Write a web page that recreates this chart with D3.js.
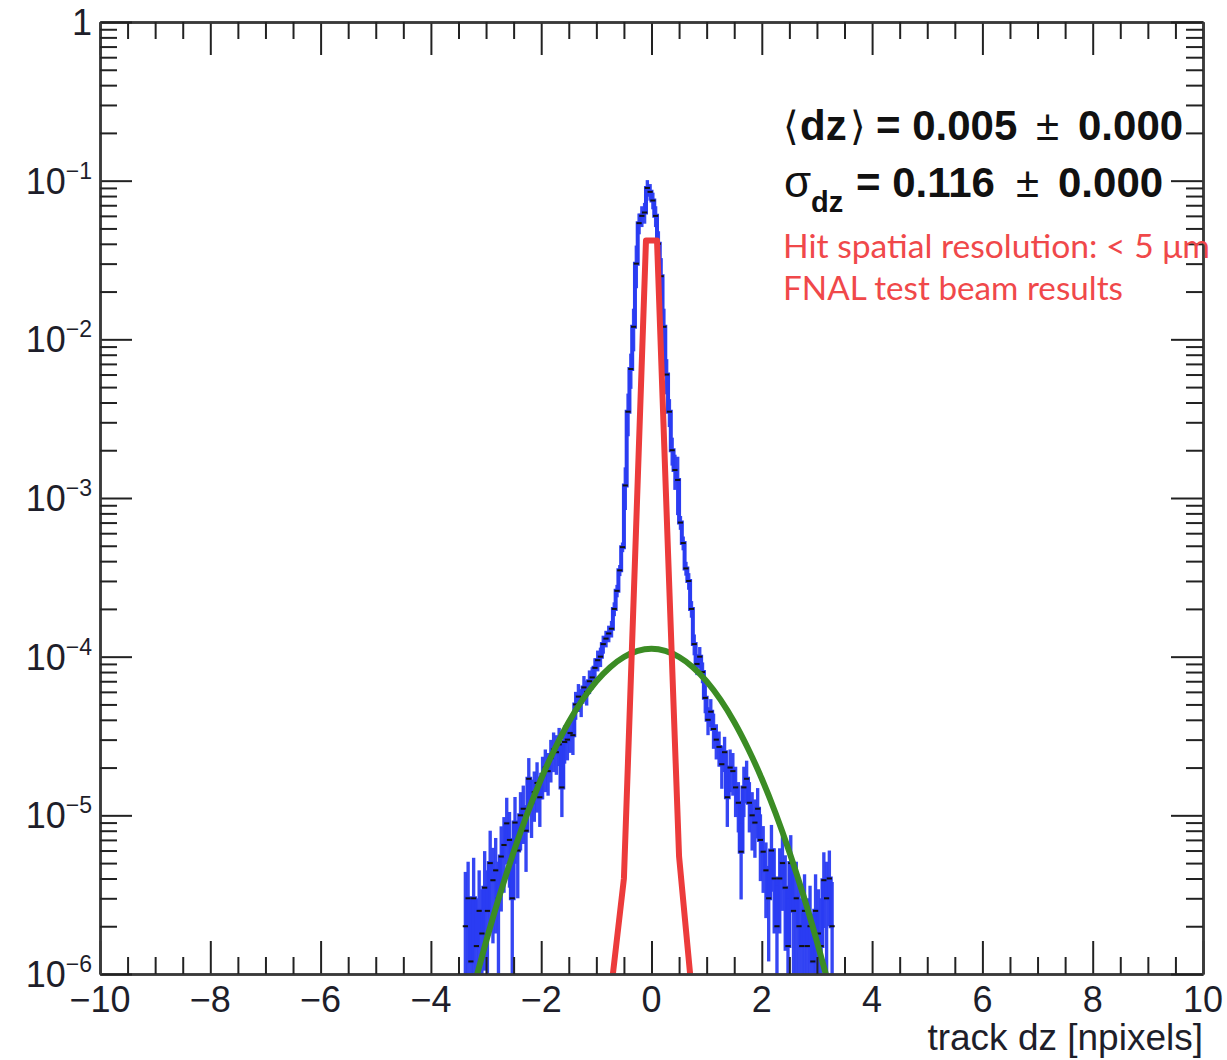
<!DOCTYPE html>
<html>
<head>
<meta charset="utf-8">
<script src="https://cdn.jsdelivr.net/npm/d3@7"></script>
<style>
  html, body { margin: 0; padding: 0; background: #fff; }
  svg { display: block; }
</style>
</head>
<body>
<svg id="chart" width="1227" height="1060"></svg>
<script>
// ---------------- data ----------------
const binStart = -3.4;
const binWidth = 0.05;
// measured histogram contents (blue error bars + black markers), one per bin from -3.4 to 3.3
const binValues = [
  2.0e-6, 3.0e-6, 1.2e-6, 3.0e-6, 1.5e-6, 2.5e-6, 1.8e-6, 3.5e-6, 2.5e-6, 5.0e-6,
  3.9e-6, 4.5e-6, 3.0e-6, 5.5e-6, 6.5e-6, 8.9e-6, 7.0e-6, 3.0e-6, 9.0e-6, 6.0e-6,
  1.0e-5, 1.1e-5, 8.0e-6, 1.7e-5, 1.2e-5, 1.4e-5, 1.6e-5, 1.3e-5, 1.8e-5, 2.0e-5,
  1.9e-5, 2.3e-5, 2.6e-5, 2.5e-5, 2.8e-5, 1.5e-5, 2.9e-5, 3.0e-5, 3.3e-5, 3.2e-5,
  5.0e-5, 5.6e-5, 5.2e-5, 6.4e-5, 6.0e-5, 7.0e-5, 7.4e-5, 8.5e-5, 9.5e-5, 1.0e-4,
  1.2e-4, 1.3e-4, 1.4e-4, 1.5e-4, 2.0e-4, 2.6e-4, 3.5e-4, 4.9e-4, 1.2e-3, 3.5e-3,
  6.5e-3, 1.2e-2, 3.0e-2, 5.4e-2, 6.0e-2, 6.3e-2, 9.0e-2, 8.5e-2, 7.5e-2, 6.0e-2,
  4.0e-2, 2.5e-2, 1.2e-2, 6.0e-3, 3.5e-3, 2.0e-3, 1.5e-3, 1.3e-3, 7.0e-4, 5.2e-4,
  3.6e-4, 3.0e-4, 2.0e-4, 1.2e-4, 9.0e-5, 1.0e-4, 8.0e-5, 5.5e-5, 4.0e-5, 4.5e-5,
  3.5e-5, 3.0e-5, 2.7e-5, 2.1e-5, 2.5e-5, 1.3e-5, 2.0e-5, 1.9e-5, 1.5e-5, 1.2e-5,
  5.9e-6, 1.5e-5, 1.7e-5, 1.2e-5, 1.0e-5, 9.0e-6, 1.1e-5, 7.0e-6, 5.9e-6, 4.5e-6,
  3.0e-6, 6.0e-6, 4.0e-6, 2.0e-6, 4.0e-6, 5.0e-6, 3.5e-6, 1.5e-6, 5.0e-6, 2.5e-6,
  3.0e-6, 2.0e-6, 1.5e-6, 2.5e-6, 1.5e-6, 2.0e-6, 1.2e-6, 2.5e-6, 1.8e-6, 1.5e-6,
  3.9e-6, 3.0e-6, 4.0e-6, 2.0e-6
];
// relative uncertainty of each bin
const binRelErr = [
  1.2, 0.7, 1.0, 0.8, 1.0, 0.8, 0.9, 0.7, 0.8, 0.6,
  0.6, 0.6, 0.7, 0.55, 0.5, 0.45, 0.5, 0.7, 0.45, 0.5,
  0.4, 0.4, 0.45, 0.35, 0.4, 0.35, 0.35, 0.35, 0.3, 0.3,
  0.3, 0.3, 0.28, 0.28, 0.27, 0.35, 0.27, 0.26, 0.25, 0.25,
  0.2, 0.2, 0.2, 0.18, 0.18, 0.17, 0.16, 0.15, 0.15, 0.14,
  0.13, 0.12, 0.12, 0.12, 0.1, 0.09, 0.08, 0.07, 0.3, 0.3,
  0.25, 0.3, 0.3, 0.15, 0.15, 0.15, 0.12, 0.12, 0.12, 0.15,
  0.2, 0.3, 0.3, 0.25, 0.2, 0.2, 0.25, 0.4, 0.1, 0.1,
  0.1, 0.12, 0.12, 0.15, 0.15, 0.15, 0.15, 0.2, 0.2, 0.2,
  0.25, 0.25, 0.25, 0.3, 0.25, 0.35, 0.3, 0.3, 0.35, 0.35,
  0.5, 0.35, 0.3, 0.35, 0.4, 0.4, 0.35, 0.45, 0.45, 0.5,
  0.6, 0.45, 0.55, 0.8, 0.55, 0.5, 0.6, 1.0, 0.5, 0.7,
  0.7, 0.8, 1.0, 0.7, 1.0, 0.8, 1.0, 0.7, 0.9, 1.0,
  0.5, 0.7, 0.5, 0.9
];
// red curve (FNAL test beam)
const redX = [-0.7, -0.5, -0.3, -0.1, 0.1, 0.3, 0.5, 0.7];
const redY = [1.0e-6, 4.0e-6, 4.0e-4, 4.2e-2, 4.2e-2, 4.5e-4, 5.5e-6, 1.0e-6];
// green gaussian fit curve, sampled
const greenX = [-3.25, -3.0, -2.75, -2.5, -2.25, -2.0, -1.75, -1.5, -1.25, -1.0, -0.75, -0.5, -0.25, 0.0,
                0.25, 0.5, 0.75, 1.0, 1.25, 1.5, 1.75, 2.0, 2.25, 2.5, 2.75, 3.0, 3.25];
const greenY = [7.7e-7, 1.6e-6, 3.16e-6, 5.87e-6, 1.03e-5, 1.70e-5, 2.64e-5, 3.88e-5, 5.36e-5, 6.99e-5, 8.59e-5, 9.95e-5, 1.088e-4, 1.12e-4,
                1.088e-4, 9.95e-5, 8.59e-5, 6.99e-5, 5.36e-5, 3.88e-5, 2.64e-5, 1.70e-5, 1.03e-5, 5.87e-6, 3.16e-6, 1.6e-6, 7.7e-7];
// axis ticks
const xMajorTicks = [-10, -8, -6, -4, -2, 0, 2, 4, 6, 8, 10];
const xTickLabels = ["\u221210", "\u22128", "\u22126", "\u22124", "\u22122", "0", "2", "4", "6", "8", "10"];
const yDecades = [1, 1e-1, 1e-2, 1e-3, 1e-4, 1e-5, 1e-6];
const yExponents = ["", "\u22121", "\u22122", "\u22123", "\u22124", "\u22125", "\u22126"];

// ---------------- layout ----------------
const L = 100, R = 1203, T = 22, B = 974;
const x = d3.scaleLinear().domain([-10, 10]).range([L, R]);
const y = d3.scaleLog().domain([1e-6, 1]).range([B, T]);

const svg = d3.select("#chart");
const axisColor = "#3a3a3a";
const font = "'Liberation Sans', Arial, Helvetica, sans-serif";
const blue = "#2a3cf2";

svg.append("defs").append("clipPath").attr("id", "plotclip")
  .append("rect").attr("x", L).attr("y", T).attr("width", R - L).attr("height", B - T);

const plot = svg.append("g").attr("clip-path", "url(#plotclip)");

// histogram bins
const bins = binValues.map((v, i) => {
  const lo = binStart + i * binWidth;
  return { x0: lo, x1: lo + binWidth, v: v, e: v * binRelErr[i] };
});

// blue histogram outline (step)
const stepPts = [];
bins.forEach(d => { stepPts.push([d.x0, d.v]); });
stepPts.push([bins[bins.length - 1].x1, bins[bins.length - 1].v]);
plot.append("path").datum(stepPts)
  .attr("d", d3.line().x(d => x(d[0])).y(d => y(d[1])).curve(d3.curveStepAfter))
  .attr("fill", "none").attr("stroke", blue).attr("stroke-width", 4);

// blue error boxes
plot.append("g").selectAll("rect").data(bins).join("rect")
  .attr("x", d => x(d.x0) - 0.3)
  .attr("width", d => x(d.x1) - x(d.x0) + 0.6)
  .attr("y", d => y(d.v + d.e))
  .attr("height", d => {
    const lo = Math.max(d.v - d.e, 1e-7);
    return y(lo) - y(d.v + d.e);
  })
  .attr("fill", blue)
  .attr("fill-opacity", 0.95);

// black markers
plot.append("g").selectAll("line").data(bins).join("line")
  .attr("x1", d => x((d.x0 + d.x1) / 2) - 2.6)
  .attr("x2", d => x((d.x0 + d.x1) / 2) + 2.6)
  .attr("y1", d => y(d.v))
  .attr("y2", d => y(d.v))
  .attr("stroke", "#111")
  .attr("stroke-width", 2);

// green fit
const greenPts = greenX.map((gx, i) => [gx, greenY[i]]);
plot.append("path").datum(greenPts)
  .attr("d", d3.line().x(d => x(d[0])).y(d => y(d[1])).curve(d3.curveMonotoneX))
  .attr("fill", "none").attr("stroke", "#3b8c24").attr("stroke-width", 6);

// red curve
const redPts = redX.map((rx, i) => [rx, redY[i]]);
plot.append("path").datum(redPts)
  .attr("d", d3.line().x(d => x(d[0])).y(d => y(d[1])))
  .attr("fill", "none").attr("stroke", "#ec3b3b").attr("stroke-width", 6)
  .attr("stroke-linejoin", "round");

// ---------------- axes ----------------
const xMinor = d3.range(-10, 10.001, 0.5).filter(v => Math.abs(v / 2 - Math.round(v / 2)) > 1e-6);
const yMinor = [];
for (let e = -6; e < 0; e++) for (let k = 2; k <= 9; k++) yMinor.push(k * Math.pow(10, e));

function styleAxis(g) {
  g.select(".domain").attr("stroke", axisColor).attr("stroke-width", 2.5);
  g.selectAll(".tick line").attr("stroke", "#222").attr("stroke-width", 2);
  g.selectAll(".tick text").remove();
}

// bottom
svg.append("g").attr("transform", `translate(0,${B})`)
  .call(d3.axisBottom(x).tickValues(xMajorTicks).tickSize(-33).tickSizeOuter(0)).call(styleAxis);
svg.append("g").attr("transform", `translate(0,${B})`)
  .call(d3.axisBottom(x).tickValues(xMinor).tickSize(-17).tickSizeOuter(0)).call(styleAxis);
// top
svg.append("g").attr("transform", `translate(0,${T})`)
  .call(d3.axisTop(x).tickValues(xMajorTicks).tickSize(-33).tickSizeOuter(0)).call(styleAxis);
svg.append("g").attr("transform", `translate(0,${T})`)
  .call(d3.axisTop(x).tickValues(xMinor).tickSize(-17).tickSizeOuter(0)).call(styleAxis);
// left
svg.append("g").attr("transform", `translate(${L},0)`)
  .call(d3.axisLeft(y).tickValues(yDecades).tickSize(-32).tickSizeOuter(0)).call(styleAxis);
svg.append("g").attr("transform", `translate(${L},0)`)
  .call(d3.axisLeft(y).tickValues(yMinor).tickSize(-17).tickSizeOuter(0)).call(styleAxis);
// right
svg.append("g").attr("transform", `translate(${R},0)`)
  .call(d3.axisRight(y).tickValues(yDecades).tickSize(-32).tickSizeOuter(0)).call(styleAxis);
svg.append("g").attr("transform", `translate(${R},0)`)
  .call(d3.axisRight(y).tickValues(yMinor).tickSize(-17).tickSizeOuter(0)).call(styleAxis);

// x tick labels
svg.append("g").selectAll("text").data(xMajorTicks).join("text")
  .attr("x", d => x(d)).attr("y", B + 38)
  .attr("text-anchor", "middle")
  .attr("font-family", font).attr("font-size", 36).attr("fill", "#1e1e2a")
  .text((d, i) => xTickLabels[i]);

// y tick labels
const yl = svg.append("g");
yDecades.forEach((d, i) => {
  const t = yl.append("text")
    .attr("x", 92).attr("y", y(d) + 13)
    .attr("text-anchor", "end")
    .attr("font-family", font).attr("font-size", 36).attr("fill", "#1e1e2a");
  if (yExponents[i] === "") {
    t.text("1");
  } else {
    t.append("tspan").text("10");
    t.append("tspan").attr("dy", -15).attr("font-size", 23).text(yExponents[i]);
  }
});

// axis title
svg.append("text").attr("x", R).attr("y", 1050)
  .attr("text-anchor", "end")
  .attr("font-family", font).attr("font-size", 37).attr("fill", "#1e1e2a")
  .text("track dz [npixels]");

// stats text
function piece(yb, xp, txt, opts) {
  const t = svg.append("text").attr("x", xp).attr("y", yb)
    .attr("font-family", (opts && opts.family) || font)
    .attr("font-size", (opts && opts.size) || 42)
    .attr("font-weight", (opts && opts.weight) || "bold")
    .attr("fill", "#111")
    .text(txt);
  return t;
}
piece(140, 783, "\u27E8", { family: "'DejaVu Sans', sans-serif", weight: "normal", size: 40 });
piece(140, 800, "dz");
piece(140, 850, "\u27E9", { family: "'DejaVu Sans', sans-serif", weight: "normal", size: 40 });
piece(140, 876, "= 0.005");
piece(140, 1036, "\u00B1", { weight: "normal" });
piece(140, 1078, "0.000");

piece(197, 784, "\u03C3", { weight: "normal", size: 44 });
piece(212, 811, "dz", { size: 29 });
piece(197, 856, "= 0.116");
piece(197, 1016, "\u00B1", { weight: "normal" });
piece(197, 1058, "0.000");

// red annotation
svg.append("text").attr("x", 783).attr("y", 258)
  .attr("font-family", "Lato, 'Open Sans', sans-serif").attr("font-size", 32).attr("fill", "#f0484a")
  .attr("textLength", 427).attr("lengthAdjust", "spacingAndGlyphs")
  .text("Hit spatial resolution: < 5 \u03BCm");
svg.append("text").attr("x", 783).attr("y", 300)
  .attr("font-family", "Lato, 'Open Sans', sans-serif").attr("font-size", 32).attr("fill", "#f0484a")
  .attr("textLength", 340).attr("lengthAdjust", "spacingAndGlyphs")
  .text("FNAL test beam results");
</script>
</body>
</html>
